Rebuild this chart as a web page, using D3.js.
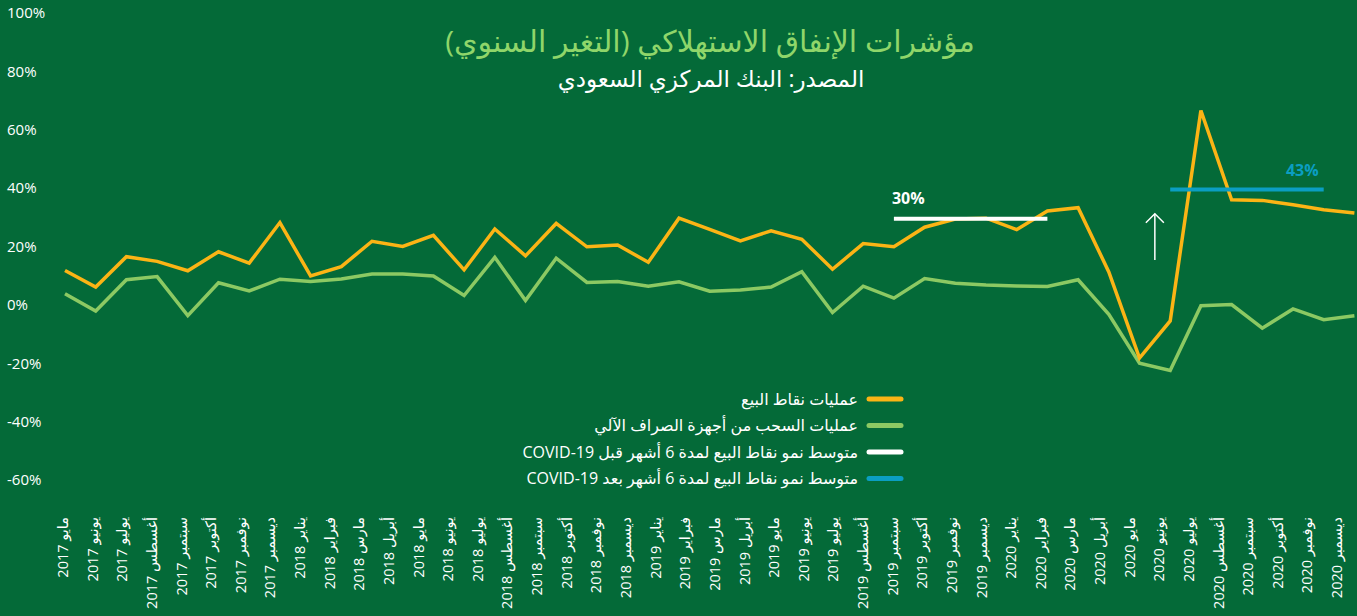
<!DOCTYPE html>
<html>
<head>
<meta charset="utf-8">
<script src="https://cdn.jsdelivr.net/npm/d3@7"></script>
<style>
  html, body { margin: 0; padding: 0; background: #046a38; }
  svg { display: block; font-family: 'Open Sans', 'DejaVu Sans', sans-serif; }
</style>
</head>
<body>
<div id="chart"></div>
<script>
// Consumer spending indicators, YoY change (SAMA)

const months = [
  'مايو 2017', 'يونيو 2017', 'يوليو 2017', 'أغسطس 2017', 'سبتمبر 2017', 'أكتوبر 2017', 'نوفمبر 2017', 'ديسمبر 2017',
  'يناير 2018', 'فبراير 2018', 'مارس 2018', 'أبريل 2018', 'مايو 2018', 'يونيو 2018', 'يوليو 2018', 'أغسطس 2018',
  'سبتمبر 2018', 'أكتوبر 2018', 'نوفمبر 2018', 'ديسمبر 2018', 'يناير 2019', 'فبراير 2019', 'مارس 2019', 'أبريل 2019',
  'مايو 2019', 'يونيو 2019', 'يوليو 2019', 'أغسطس 2019', 'سبتمبر 2019', 'أكتوبر 2019', 'نوفمبر 2019', 'ديسمبر 2019',
  'يناير 2020', 'فبراير 2020', 'مارس 2020', 'أبريل 2020', 'مايو 2020', 'يونيو 2020', 'يوليو 2020', 'أغسطس 2020',
  'سبتمبر 2020', 'أكتوبر 2020', 'نوفمبر 2020', 'ديسمبر 2020'
];

// point of sale transactions (%)
const posValues = [
  11.8, 6.1, 16.5, 14.9, 11.7, 18.2, 14.3, 28.2, 9.9, 13.1, 21.8, 20.0, 23.8, 12.0, 26.0, 16.8,
  27.9, 19.9, 20.5, 14.6, 29.7, 25.9, 21.9, 25.4, 22.5, 12.2, 21.0, 19.9, 26.6, 29.4, 29.7, 25.8,
  32.2, 33.3, 11.3, -18.2, -5.5, 66.6, 36.0, 35.8, 34.3, 32.6, 31.5
];

// ATM withdrawals (%)
const atmValues = [
  3.8, -2.1, 8.6, 9.7, -3.7, 7.6, 4.8, 8.8, 8.0, 8.9, 10.6, 10.6, 9.9, 3.2, 16.3, 1.5,
  16.0, 7.7, 8.0, 6.4, 7.9, 4.7, 5.1, 6.1, 11.4, -2.6, 6.4, 2.3, 9.0, 7.4, 6.8, 6.5,
  6.3, 8.6, -3.2, -20.0, -22.5, -0.3, 0.1, -8.0, -1.4, -5.1, -3.7
];

const yTicks = [100, 80, 60, 40, 20, 0, -20, -40, -60];

// 6-month average POS growth before / after COVID-19
const avgLabels = ['30%', '43%'];
const avgLevels = [29.5, 39.5];
const avgFrom = ['أغسطس 2019', 'مايو 2020'];
const avgTo = ['يناير 2020', 'أكتوبر 2020'];

const legendLabels = [
  'عمليات نقاط البيع',
  'عمليات السحب من أجهزة الصراف الآلي',
  'متوسط نمو نقاط البيع لمدة 6 أشهر قبل COVID-19',
  'متوسط نمو نقاط البيع لمدة 6 أشهر بعد COVID-19'
];

const BG = '#046a38';
const COLORS = {
  pos: '#fbb415',
  atm: '#8cc963',
  before: '#ffffff',
  after: '#0b9ec2',
  title: '#8fd66a'
};
const legendColors = [COLORS.pos, COLORS.atm, COLORS.before, COLORS.after];

const width = 1357;
const height = 616;

const svg = d3.select('#chart')
  .append('svg')
  .attr('width', width)
  .attr('height', height)
  .attr('viewBox', [0, 0, width, height]);

svg.append('rect')
  .attr('width', width)
  .attr('height', height)
  .attr('fill', BG);

// Scales
const y = d3.scaleLinear().domain([-60, 100]).range([480, 13]);
// the series run a little wider than the month labels (last month falls off the edge)
const x = d3.scalePoint().domain(months).range([65, 65 + 30.7 * (months.length - 1)]);
const xLabel = d3.scalePoint().domain(months).range([63, 1337]);

// Title
svg.append('text')
  .attr('x', 710)
  .attr('y', 52)
  .attr('text-anchor', 'middle')
  .attr('fill', COLORS.title)
  .attr('font-size', '30px')
  .style('direction', 'rtl')
  .style('unicode-bidi', 'embed')
  .text('مؤشرات الإنفاق الاستهلاكي (التغير السنوي)');

svg.append('text')
  .attr('x', 711)
  .attr('y', 87)
  .attr('text-anchor', 'middle')
  .attr('fill', '#ffffff')
  .attr('font-size', '23px')
  .style('direction', 'rtl')
  .style('unicode-bidi', 'embed')
  .text('المصدر: البنك المركزي السعودي');

// Y axis (labels only)
const yAxis = svg.append('g')
  .attr('transform', 'translate(7,0)')
  .call(d3.axisRight(y)
    .tickValues(yTicks)
    .tickSize(0)
    .tickPadding(0)
    .tickFormat(d => d + '%'));
yAxis.select('.domain').remove();
yAxis.selectAll('text')
  .attr('fill', '#ffffff')
  .attr('font-size', '15px')
  .attr('font-family', "'Open Sans', sans-serif");

// X axis labels, rotated
svg.append('g')
  .selectAll('text')
  .data(months)
  .join('text')
  .attr('transform', d => `translate(${xLabel(d)},517) rotate(-90)`)
  .attr('text-anchor', 'end')
  .attr('dy', '0.35em')
  .attr('fill', '#ffffff')
  .attr('font-size', '14.5px')
  .text(d => d);

// Series lines
const line = d3.line()
  .x((d, i) => x(months[i]))
  .y(d => y(d));

svg.append('path')
  .datum(atmValues)
  .attr('fill', 'none')
  .attr('stroke', COLORS.atm)
  .attr('stroke-width', 3.5)
  .attr('d', line);

svg.append('path')
  .datum(posValues)
  .attr('fill', 'none')
  .attr('stroke', COLORS.pos)
  .attr('stroke-width', 3.5)
  .attr('d', line);

// Average lines + labels
const avgColors = [COLORS.before, COLORS.after];
avgLevels.forEach((v, i) => {
  svg.append('line')
    .attr('x1', x(avgFrom[i]))
    .attr('x2', x(avgTo[i]))
    .attr('y1', y(v))
    .attr('y2', y(v))
    .attr('stroke', avgColors[i])
    .attr('stroke-width', 4);
});

svg.append('text')
  .attr('x', x(avgFrom[0]) - 2)
  .attr('y', y(avgLevels[0]) - 15)
  .attr('fill', COLORS.before)
  .attr('font-size', '16px')
  .attr('font-weight', 700)
  .text(avgLabels[0]);

svg.append('text')
  .attr('x', x(avgTo[1]) - 5)
  .attr('y', y(avgLevels[1]) - 13.5)
  .attr('text-anchor', 'end')
  .attr('fill', COLORS.after)
  .attr('font-size', '16px')
  .attr('font-weight', 700)
  .text(avgLabels[1]);

// Upward arrow between the trough and the rebound
const ax = (x(months[35]) + x(months[36])) / 2;
const arrowTop = y(31.2);
svg.append('line')
  .attr('x1', ax).attr('x2', ax)
  .attr('y1', y(15.4)).attr('y2', arrowTop)
  .attr('stroke', '#ffffff')
  .attr('stroke-width', 1.5);
svg.append('path')
  .attr('d', `M${ax - 9},${arrowTop + 9}L${ax},${arrowTop}L${ax + 9},${arrowTop + 9}`)
  .attr('fill', 'none')
  .attr('stroke', '#ffffff')
  .attr('stroke-width', 1.5);

// Legend
const legend = svg.append('g')
  .selectAll('g')
  .data(legendLabels)
  .join('g')
  .attr('transform', (d, i) => `translate(0,${399 + i * 26.5})`);

legend.append('line')
  .attr('x1', 869)
  .attr('x2', 901)
  .attr('stroke', (d, i) => legendColors[i])
  .attr('stroke-width', 5)
  .attr('stroke-linecap', 'round');

legend.append('text')
  .attr('x', 858)
  .attr('dy', '0.35em')
  .attr('text-anchor', 'start')
  .style('direction', 'rtl')
  .style('unicode-bidi', 'embed')
  .attr('fill', '#ffffff')
  .attr('font-size', '16px')
  .text(d => d);
</script>
</body>
</html>
